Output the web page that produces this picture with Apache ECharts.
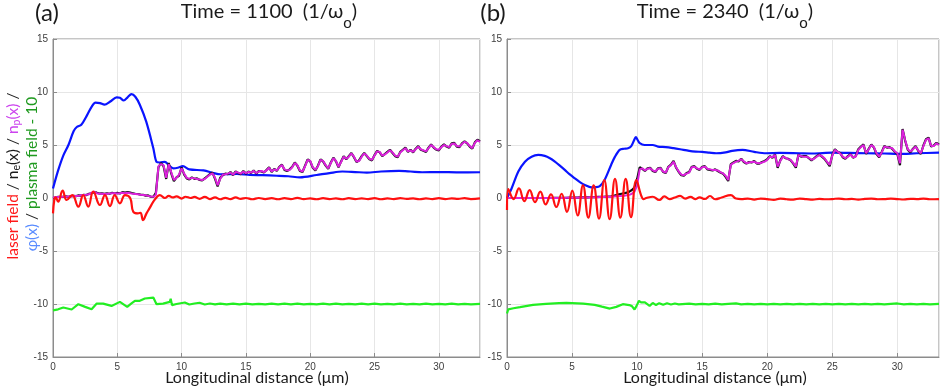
<!DOCTYPE html>
<html><head><meta charset="utf-8">
<script src="https://cdn.jsdelivr.net/npm/echarts@6/dist/echarts.min.js"></script>
<style>html,body{margin:0;padding:0;background:#fff}#c{width:941px;height:387px}</style>
</head><body><div id="c"></div>
<script>
// ---------- DATA ----------
const xTicks = [0, 5, 10, 15, 20, 25, 30];
const yTicks = [-15, -10, -5, 0, 5, 10, 15];
const titlesA = ['(a)', 'Time = 1100  (1/ω', 'o', ')'];
const titlesB = ['(b)', 'Time = 2340  (1/ω', 'o', ')'];
const xName = 'Longitudinal distance (μm)';

// dense density samples: x = 0, 0.2, 0.4 ... 33.2
const densStart = 0, densStep = 0.2;

// ---- panel (a), Time = 1100 ----
const phiA = [[0,0.9],[0.4,2.6],[0.8,4.0],[1.2,5.0],[1.6,6.3],[1.85,6.7],[2.2,6.9],[2.6,7.7],[3.0,8.6],[3.3,9.0],[3.65,8.95],[4.0,8.8],[4.45,9.1],[4.95,9.5],[5.2,9.45],[5.5,9.2],[5.8,9.5],[6.1,9.8],[6.4,9.55],[6.75,8.8],[7.25,7.2],[7.8,4.7],[8.05,3.4],[8.3,3.35],[8.7,3.4],[9.0,3.1],[9.35,2.8],[9.7,2.85],[10.1,3.0],[10.6,2.7],[11.7,2.6],[12.5,2.35],[13,2.24],[14.3,2.27],[15.3,2.17],[16.3,2.15],[17.4,2.1],[18.3,2.05],[19.2,1.95],[20.5,2.17],[21.5,2.35],[22.5,2.5],[23.5,2.45],[24.4,2.4],[25.5,2.5],[26.9,2.55],[27.8,2.5],[28.7,2.43],[30,2.45],[31.5,2.42],[33.2,2.43]];
const laserA = [[0,-1.45],[0.1,-0.2],[0.2,0.05],[0.4,-0.35],[0.75,0.69],[1.06,-0.19],[1.5,0.28],[1.97,-0.82],[2.35,0.28],[2.74,-0.82],[3.13,0.6],[3.65,-0.66],[4.04,0.28],[4.43,-0.76],[4.8,0.28],[5.2,-0.5],[5.6,0.28],[6.0,0],[6.24,-1.29],[6.6,-1.45],[6.8,-1.4],[7.0,-2.08],[7.27,-1.45],[7.5,-0.98],[7.8,-0.35],[8.05,0.06],[8.3,0.28],[8.7,0.0],[9.0,0.2],[9.3,0.05],[9.6,0.15],[10.0,-0.05],[10.3,0.12],[10.7,0.0],[11.0,0.1],[11.4,-0.08],[11.8,0.1],[12.2,-0.1],[12.6,0.05],[13.0,-0.12],[13.4,0.02],[13.8,-0.1],[14.2,0.05],[14.6,-0.08],[15.0,0.0],[15.5,-0.12],[16.0,0.0],[16.5,-0.1],[17.0,-0.02],[17.5,-0.12],[18.0,-0.02],[18.5,-0.1],[19.0,0.02],[19.5,-0.1],[20.0,-0.04],[20.5,-0.12],[21.0,-0.02],[21.5,-0.1],[22.0,-0.04],[22.5,-0.12],[23.0,-0.02],[23.5,-0.1],[24.0,-0.04],[24.5,-0.1],[25.0,-0.02],[25.5,-0.12],[26.0,-0.04],[26.5,-0.1],[27.0,-0.02],[27.5,-0.08],[28.0,-0.04],[28.5,-0.12],[29.0,-0.04],[29.5,-0.1],[30.0,-0.02],[30.5,-0.1],[31.0,-0.04],[31.5,-0.08],[32.0,-0.02],[32.5,-0.1],[33.2,-0.04]];
const plasmaA = [[0,-10.6],[0.4,-10.5],[0.8,-10.33],[1.45,-10.52],[1.97,-10.02],[2.5,-10.27],[3.0,-10.5],[3.4,-9.96],[3.9,-9.96],[4.55,-10.18],[5.2,-9.8],[5.77,-10.27],[6.1,-9.95],[6.37,-9.7],[6.75,-9.7],[7.14,-9.48],[7.8,-9.39],[8.05,-10.02],[8.56,-9.96],[9.08,-9.8],[9.15,-9.5],[9.25,-10.1],[9.6,-10.0],[10.25,-9.86],[10.6,-10.05],[11.0,-9.95],[11.4,-9.88],[11.8,-10.05],[12.2,-9.95],[12.6,-10.03],[13.0,-9.96],[13.5,-10.03],[14.0,-9.97],[14.5,-10.04],[15.0,-9.97],[15.5,-10.03],[16.0,-9.98],[16.5,-10.04],[17.0,-9.97],[17.5,-10.03],[18.0,-9.96],[18.5,-10.03],[19.0,-9.97],[19.5,-10.04],[20.0,-9.98],[20.5,-10.03],[21.0,-9.97],[21.5,-10.04],[22.0,-9.97],[22.5,-10.03],[23.0,-9.98],[23.5,-10.04],[24.0,-9.97],[24.5,-10.03],[25.0,-9.97],[25.5,-10.04],[26.0,-9.98],[26.5,-10.03],[27.0,-9.97],[27.5,-10.04],[28.0,-9.98],[28.5,-10.03],[29.0,-9.97],[29.5,-10.04],[30.0,-9.98],[30.5,-10.03],[31.0,-9.97],[31.5,-10.04],[32.0,-9.98],[32.5,-10.03],[33.2,-9.98]];
const npA = [
 0.05,0.08,0.1,0.1,0.12,  0.12,0.15,0.15,0.18,0.2,  0.22,0.25,0.28,0.3,0.35,  0.5,0.6,0.45,0.4,0.4,
 0.38,0.4,0.42,0.45,0.45,  0.42,0.45,0.5,0.45,0.5,  0.45,0.4,0.38,0.35,0.3,  0.28,0.25,0.2,0.15,0.12,
 0.3,3.0,3.2,3.1,1.9,  3.2,2.4,1.7,1.9,2.2,  2.8,2.3,1.9,1.8,1.9,  1.85,1.8,1.75,1.7,1.8,
 2.0,2.2,2.33,1.9,1.2,  1.8,2.2,2.25,2.3,2.4,  2.2,2.45,2.4,2.3,2.5,  2.35,2.45,2.4,2.55,2.35,
 2.5,2.55,2.45,2.6,2.85,  2.5,2.7,2.6,2.9,3.1,  2.7,2.6,2.65,2.9,3.3,  3.1,2.6,2.5,3.0,3.6,
 3.5,2.9,2.65,3.0,3.6,  3.5,3.1,2.8,3.3,3.75,  3.5,2.95,3.4,3.9,3.7,  3.9,4.2,3.9,3.45,3.5,
 3.9,4.2,4.0,3.7,3.6,  4.0,4.4,4.35,4.0,4.1,  4.3,4.5,4.3,4.0,3.9,  4.3,4.5,4.7,4.4,4.5,
 4.35,4.6,4.85,4.6,4.5,  4.4,4.7,5.0,4.8,4.6,  4.55,4.8,5.0,4.9,4.8,  5.1,5.15,4.9,4.85,5.1,
 5.3,5.2,4.9,4.7,5.2,  5.45,5.3];
const neA = [
 0.0,0.05,0.1,0.12,0.1,  0.15,0.12,0.18,0.2,0.18,  0.25,0.22,0.3,0.28,0.4,  0.45,0.55,0.5,0.42,0.45,
 0.4,0.45,0.4,0.5,0.42,  0.48,0.42,0.55,0.5,0.55,  0.5,0.45,0.4,0.38,0.32,  0.3,0.22,0.25,0.12,0.1,
 0.5,2.9,3.3,3.0,1.8,  3.3,2.3,1.6,1.95,2.1,  2.9,2.2,1.85,1.75,1.95,  1.8,1.85,1.7,1.65,1.85,
 2.05,2.25,2.4,1.8,1.1,  1.9,2.15,2.3,2.25,2.45,  2.15,2.5,2.35,2.25,2.55,  2.3,2.5,2.35,2.6,2.3,
 2.55,2.5,2.4,2.65,2.9,  2.45,2.75,2.55,2.95,3.15,  2.65,2.55,2.7,2.95,3.35,  3.05,2.55,2.45,3.05,3.65,
 3.45,2.85,2.6,3.05,3.65,  3.45,3.05,2.75,3.35,3.8,  3.45,2.9,3.45,3.95,3.65,  3.95,4.25,3.85,3.4,3.55,
 3.95,4.25,3.95,3.65,3.55,  4.05,4.45,4.3,3.95,4.15,  4.35,4.55,4.25,3.95,3.85,  4.35,4.55,4.75,4.35,4.55,
 4.3,4.65,4.9,4.55,4.45,  4.35,4.75,5.05,4.75,4.55,  4.5,4.85,5.05,4.85,4.75,  5.15,5.2,4.85,4.8,5.15,
 5.35,5.15,4.85,4.65,5.25,  5.5,5.35];

// ---- panel (b), Time = 2340 ----
const phiB = [[0,0],[0.36,0.92],[0.87,2.5],[1.38,3.43],[1.89,3.9],[2.4,4.06],[2.9,3.97],[3.3,3.75],[3.68,3.43],[4.06,3.05],[4.44,2.65],[4.8,2.25],[5.2,1.86],[5.6,1.5],[5.98,1.23],[6.49,1.0],[6.8,1.02],[7.13,1.13],[7.5,1.7],[8.0,3.12],[8.3,3.9],[8.66,4.54],[9.0,4.65],[9.3,4.7],[9.55,4.9],[9.75,5.4],[9.9,5.74],[10.05,5.45],[10.2,5.17],[10.57,5.0],[11.2,5.0],[11.6,4.85],[12.2,4.8],[12.8,4.7],[13.3,4.6],[14.0,4.45],[14.5,4.38],[15.0,4.35],[15.55,4.28],[16.07,4.22],[16.8,4.3],[17.3,4.45],[18.1,4.54],[19.0,4.35],[19.9,4.22],[21.0,4.25],[22.45,4.22],[23.5,4.2],[25.0,4.28],[26.3,4.25],[27.6,4.22],[29.0,4.2],[30.1,4.16],[31.5,4.22],[33.2,4.28]];
const laserB = [[0,-1.13],[0.1,0.85],[0.51,-0.1],[0.92,0.9],[1.33,-0.3],[1.74,0.75],[2.15,-0.4],[2.56,0.6],[2.97,-0.6],[3.38,0.35],[3.79,-0.85],[4.2,0.4],[4.61,-1.3],[5.02,0.7],[5.43,-1.65],[5.84,1.2],[6.25,-1.85],[6.66,1.2],[7.07,-1.95],[7.48,1.7],[7.89,-2.0],[8.3,1.8],[8.71,-1.85],[9.12,1.8],[9.53,-1.8],[9.94,1.7],[10.3,0.28],[10.5,-0.1],[10.7,0.0],[11.2,0.12],[11.7,-0.19],[12.1,0.15],[12.5,-0.1],[12.9,0.05],[13.3,0.2],[13.7,-0.05],[14.1,0.1],[14.5,-0.1],[14.8,0.06],[15.2,-0.09],[15.6,0.19],[16.0,-0.12],[16.5,0.05],[17.2,0.28],[17.6,-0.05],[18.0,-0.1],[18.5,-0.05],[19.0,-0.15],[19.5,-0.05],[20.0,-0.1],[20.5,-0.18],[21.0,-0.05],[21.5,-0.12],[22.0,-0.15],[22.5,-0.05],[23.0,-0.1],[23.5,-0.15],[24.0,-0.08],[24.5,-0.12],[25.0,-0.1],[25.5,-0.05],[26.0,-0.12],[26.5,-0.08],[27.0,-0.15],[27.5,-0.08],[28.0,-0.05],[28.5,-0.12],[29.0,-0.1],[29.5,-0.06],[30.0,-0.1],[30.5,-0.14],[31.0,-0.08],[31.5,-0.1],[32.0,-0.05],[32.5,-0.12],[33.2,-0.1]];
const plasmaB = [[0,-10.9],[0.1,-10.5],[0.5,-10.4],[1.0,-10.3],[2.0,-10.08],[3.0,-9.98],[4.0,-9.92],[4.57,-9.9],[5.85,-9.96],[6.74,-10.08],[7.3,-10.25],[7.9,-10.43],[8.4,-10.27],[8.9,-10.02],[9.4,-10.1],[9.6,-10.2],[9.8,-10.52],[9.95,-10.2],[10.14,-9.7],[10.3,-9.85],[10.45,-10.02],[10.6,-9.85],[10.7,-9.9],[10.96,-10.18],[11.2,-9.9],[11.45,-10.1],[11.7,-9.92],[12.0,-10.08],[12.3,-9.93],[12.6,-10.05],[12.9,-9.95],[13.2,-10.03],[14.0,-9.97],[14.5,-10.03],[15.0,-9.98],[15.5,-10.03],[16.0,-9.97],[16.5,-10.03],[17.0,-9.98],[17.6,-9.94],[18.0,-10.03],[18.5,-9.98],[19.0,-10.03],[19.5,-9.98],[20.0,-10.03],[20.5,-9.98],[21.0,-10.03],[21.5,-9.98],[22.0,-10.03],[22.5,-9.98],[23.0,-10.03],[23.5,-9.98],[24.0,-10.03],[24.5,-9.98],[25.0,-10.03],[25.5,-9.98],[26.0,-10.03],[26.5,-9.98],[27.0,-10.03],[27.5,-9.98],[28.0,-10.03],[28.5,-9.98],[29.0,-10.03],[29.5,-9.98],[30.0,-9.95],[30.5,-10.03],[31.0,-9.98],[31.5,-10.03],[32.0,-9.98],[32.5,-10.03],[33.2,-9.98]];
const npB = [
 0,0,0,0,0,  0,0,0,0,0,  0,0,0,0,0,  0,0,0,0,0.01,
 0.01,0.01,0.01,0.02,0.02,  0.02,0.03,0.03,0.04,0.04,  0.05,0.05,0.06,0.06,0.07,  0.08,0.09,0.1,0.11,0.11,
 0.12,0.14,0.16,0.18,0.2,  0.22,0.25,0.3,0.4,0.6,  1.2,2.7,2.8,2.6,2.75,  2.8,2.6,2.5,2.75,2.8,
 2.5,2.4,2.9,3.1,3.43,  2.9,2.5,2.2,2.17,2.3,  2.4,2.9,2.95,2.8,2.7,  2.9,2.96,2.75,2.7,2.65,
 2.65,2.6,2.45,2.33,2.1,  1.7,3.12,3.3,3.43,3.5,  3.66,3.45,3.28,3.35,3.4,  3.43,3.3,3.28,3.35,3.43,
 3.6,3.9,3.85,4.06,2.96,  3.5,3.9,3.8,3.66,3.6,  3.3,2.96,4.06,3.95,3.9,  3.9,3.8,3.6,3.7,3.9,
 4.06,3.95,3.75,3.4,3.12,  4.0,4.54,4.38,4.2,3.9,  3.75,3.9,4.1,3.85,3.9,  4.54,4.8,5.0,4.22,4.6,
 5.0,4.8,4.2,3.9,4.3,  4.85,4.8,4.75,4.7,4.4,  4.22,3.28,6.43,5.48,4.6,  4.38,4.6,4.85,4.5,4.22,
 4.9,5.48,5.64,4.9,4.9,  5.17,5.0];
const neB = [
 0,0,0,0,0,  0,0,0,0,0,  0,0,0,0,0,  0,0,0,0.01,0.01,
 0.01,0.02,0.02,0.02,0.03,  0.03,0.03,0.04,0.05,0.05,  0.06,0.06,0.07,0.08,0.09,  0.1,0.11,0.12,0.13,0.14,
 0.15,0.2,0.28,0.35,0.4,  0.45,0.5,0.6,0.75,1.0,  1.8,2.9,2.75,2.55,2.8,  2.85,2.55,2.45,2.8,2.85,
 2.45,2.35,2.95,3.15,3.5,  2.85,2.45,2.15,2.1,2.35,  2.45,2.95,3.0,2.75,2.65,  2.95,3.0,2.7,2.65,2.6,
 2.7,2.55,2.4,2.3,2.0,  1.6,3.2,3.35,3.5,3.45,  3.7,3.4,3.25,3.4,3.35,  3.5,3.25,3.25,3.4,3.5,
 3.65,3.95,3.8,4.1,2.85,  3.55,3.95,3.75,3.7,3.55,  3.25,2.85,4.1,3.9,3.95,  3.95,3.75,3.55,3.75,3.95,
 4.1,3.9,3.7,3.35,3.0,  4.05,4.6,4.35,4.25,3.85,  3.7,3.95,4.15,3.8,3.95,  4.6,4.85,5.05,4.15,4.65,
 5.05,4.75,4.15,3.85,4.35,  4.9,4.75,4.8,4.65,4.35,  4.15,3.1,6.5,5.4,4.55,  4.3,4.65,4.9,4.45,4.15,
 4.95,5.55,5.7,4.85,4.95,  5.2,5.05];

// ---------- CHART ----------
function dense(arr) { return arr.map((v, i) => [+(densStart + i * densStep).toFixed(2), v]); }

const chart = echarts.init(document.getElementById('c'), null, {renderer: 'canvas'});
const axisGray = '#8c8c8c';
const tickFont = {fontFamily: 'Liberation Sans', fontSize: 10, color: '#404040'};

function xAx(gi) {
  return {
    type: 'value', gridIndex: gi, min: 0, max: 33.2, interval: 5,
    axisLine: {show: true, onZero: false, lineStyle: {color: axisGray}},
    axisTick: {show: true, inside: true, length: 4, lineStyle: {color: axisGray}},
    axisLabel: Object.assign({margin: 5, showMaxLabel: false,
      formatter: v => (xTicks.indexOf(v) >= 0 ? String(v) : '')}, tickFont),
    splitLine: {show: true, lineStyle: {color: '#e6e6e6', width: 1}}
  };
}
function yAx(gi) {
  return {
    type: 'value', gridIndex: gi, min: -15, max: 15, interval: 5,
    axisLine: {show: true, onZero: false, lineStyle: {color: axisGray}},
    axisTick: {show: true, inside: true, length: 4, lineStyle: {color: axisGray}},
    axisLabel: Object.assign({margin: 5,
      formatter: v => (yTicks.indexOf(v) >= 0 ? String(v) : '')}, tickFont),
    splitLine: {show: true, lineStyle: {color: '#e6e6e6', width: 1}}
  };
}
function line(gi, data, color, width, smooth, z) {
  return {type: 'line', xAxisIndex: gi, yAxisIndex: gi, data: data, showSymbol: false,
    symbol: 'none', smooth: smooth, z: z, animation: false,
    lineStyle: {color: color, width: width}};
}

const BLUE = '#0a14ff', RED = '#ff1010', GREEN = '#22ee22', BLACK = '#111111', MAG = '#dd22dd';

const series = [];
[[phiA, laserA, plasmaA, npA, neA], [phiB, laserB, plasmaB, npB, neB]].forEach((d, gi) => {
  series.push(line(gi, d[0], BLUE, 2.2, 0.3, 2));
  series.push(line(gi, dense(d[4]), BLACK, 2.2, false, 3));
  series.push(line(gi, dense(d[3]), MAG, 2.0, false, 4));
  series.push(line(gi, d[1], RED, 2.2, 0.45, 5));
  series.push(line(gi, d[2], GREEN, 2.2, false, 6));
});

const titleRich = {
  t: {fontFamily: 'Lato', fontSize: 20, lineHeight: 38, fill: '#1a1a1a'},
  s: {fontFamily: 'Lato', fontSize: 15, lineHeight: 14, verticalAlign: 'bottom', fill: '#1a1a1a'}
};
function titleText(arr) { return '{t|' + arr[1] + '}{s|' + arr[2] + '}{t|' + arr[3] + '}'; }
const LF = 15.5, LS = 10.5;
const lblRich = {
  r: {fontFamily: 'Lato', fontSize: LF, lineHeight: 19, fill: '#ff1a1a'},
  k: {fontFamily: 'Lato', fontSize: LF, lineHeight: 19, fill: '#1a1a1a'},
  ks: {fontFamily: 'Lato', fontSize: LS, lineHeight: 10, verticalAlign: 'bottom', fill: '#1a1a1a'},
  m: {fontFamily: 'Lato', fontSize: LF, lineHeight: 19, fill: '#cc44ee'},
  ms: {fontFamily: 'Lato', fontSize: LS, lineHeight: 10, verticalAlign: 'bottom', fill: '#cc44ee'},
  b: {fontFamily: 'Lato', fontSize: LF, lineHeight: 19, fill: '#5a8cff'},
  g: {fontFamily: 'Lato', fontSize: LF, lineHeight: 19, fill: '#1f9a1f'}
};

chart.setOption({
  backgroundColor: '#fff',
  animation: false,
  grid: [
    {left: 53, top: 39, width: 427, height: 318, show: true, borderColor: axisGray, borderWidth: 1, backgroundColor: 'transparent'},
    {left: 507, top: 39, width: 432, height: 318, show: true, borderColor: axisGray, borderWidth: 1, backgroundColor: 'transparent'}
  ],
  xAxis: [xAx(0), xAx(1)],
  yAxis: [yAx(0), yAx(1)],
  series: series,
  graphic: [
    {type: 'text', x: 47, y: 13, style: {text: titlesA[0], fontFamily: 'Lato', fontSize: 24, fill: '#1a1a1a', align: 'center', verticalAlign: 'middle'}},
    {type: 'text', x: 269, y: 12, style: {text: titleText(titlesA), rich: titleRich, align: 'center', verticalAlign: 'middle'}},
    {type: 'text', x: 493, y: 13, style: {text: titlesB[0], fontFamily: 'Lato', fontSize: 24, fill: '#1a1a1a', align: 'center', verticalAlign: 'middle'}},
    {type: 'text', x: 725, y: 12, style: {text: titleText(titlesB), rich: titleRich, align: 'center', verticalAlign: 'middle'}},
    {type: 'text', x: 257, y: 378, style: {text: xName, fontFamily: 'Lato', fontSize: 16, fill: '#1a1a1a', align: 'center', verticalAlign: 'middle'}},
    {type: 'text', x: 715, y: 378, style: {text: xName, fontFamily: 'Lato', fontSize: 16, fill: '#1a1a1a', align: 'center', verticalAlign: 'middle'}},
    {type: 'text', x: 13, y: 176, rotation: Math.PI / 2, style: {
      text: '{r|laser field}{k| / n}{ks|e}{k|(x) / }{m|n}{ms|p}{m|(x)}{k| /}', rich: lblRich, align: 'center', verticalAlign: 'middle'}},
    {type: 'text', x: 32, y: 174, rotation: Math.PI / 2, style: {
      text: '{b|φ(x)}{k| / }{g|plasma field - 10}', rich: lblRich, align: 'center', verticalAlign: 'middle'}}
  ]
});
</script>
</body></html>
